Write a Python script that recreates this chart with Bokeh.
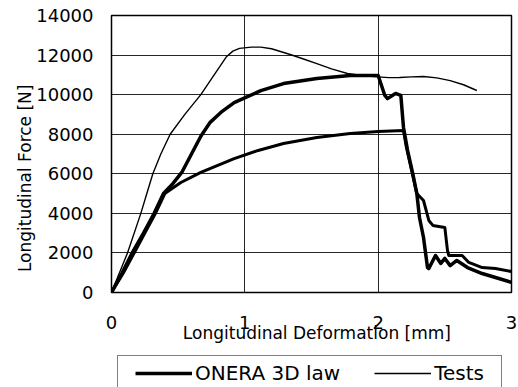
from bokeh.plotting import figure
from bokeh.models import Legend, LegendItem, FixedTicker, Range1d
from bokeh.layouts import column
from bokeh.embed import file_html
from bokeh.resources import INLINE

# ---- data ----
tests_x = [0, 0.12, 0.22, 0.265, 0.31, 0.37, 0.44, 0.55, 0.67, 0.77, 0.86, 0.91, 0.96, 1.05,
           1.12, 1.2, 1.34, 1.44, 1.54, 1.65, 1.77, 1.9, 2.0, 2.08, 2.16, 2.25, 2.34, 2.44,
           2.54, 2.64, 2.74]
tests_y = [0, 2000, 4000, 5000, 6000, 7000, 8000, 9000, 10000, 11000, 11900, 12200, 12340,
           12400, 12400, 12320, 12030, 11800, 11570, 11300, 11070, 10950, 10900, 10860, 10870,
           10900, 10920, 10850, 10710, 10500, 10210]

onera_a_x = [0, 0.08, 0.155, 0.24, 0.32, 0.39, 0.46, 0.53, 0.6, 0.67, 0.74, 0.82, 0.92, 1.02,
             1.12, 1.29, 1.54, 1.79, 2.0, 2.05, 2.07, 2.13, 2.17, 2.19, 2.22, 2.26, 2.29, 2.31,
             2.34, 2.37, 2.38, 2.43, 2.47, 2.50, 2.54, 2.59, 2.67, 2.78, 2.88, 3.0]
onera_a_y = [0, 1000, 2000, 3000, 4000, 5000, 5500, 6100, 7000, 7900, 8600, 9100, 9600, 9900,
             10200, 10560, 10820, 10970, 10970, 9960, 9800, 10060, 9960, 8340, 7200, 6000, 5000,
             3790, 2780, 1260, 1210, 1870, 1470, 1720, 1360, 1620, 1260, 960, 760, 510]

onera_b_x = [0, 0.09, 0.17, 0.25, 0.33, 0.40, 0.52, 0.67, 0.92, 1.1, 1.29, 1.54, 1.79, 2.0,
             2.19, 2.21, 2.25, 2.29, 2.34, 2.38, 2.41, 2.50, 2.52, 2.53, 2.63, 2.68, 2.78,
             2.88, 3.0]
onera_b_y = [0, 1000, 2000, 3000, 4000, 5000, 5560, 6070, 6770, 7180, 7530, 7830, 8040, 8140,
             8190, 7400, 6200, 5000, 4650, 3640, 3390, 3290, 2120, 1870, 1870, 1520, 1260,
             1210, 1060]

x_ticks = [0, 1, 2, 3]
y_ticks = [0, 2000, 4000, 6000, 8000, 10000, 12000, 14000]

x_title = "Longitudinal Deformation [mm]"
y_title = "Longitudinal Force [N]"
legend_labels = ["ONERA 3D law", "Tests"]

FONT = "DejaVu Sans"
NBSP = "\u00a0"

# ---------------- main chart ----------------
p = figure(width=518, height=349, output_backend="svg", toolbar_location=None,
           x_range=Range1d(0, 3), y_range=Range1d(0, 14000),
           min_border_left=111, min_border_right=7, min_border_top=15, min_border_bottom=57)

p.outline_line_color = "black"
p.outline_line_width = 1.5

for ax in (p.xaxis[0], p.yaxis[0]):
    ax.axis_line_color = None
    ax.major_tick_line_color = None
    ax.minor_tick_line_color = None
    ax.major_tick_out = 0
    ax.major_tick_in = 0
    ax.major_label_text_font = FONT
    ax.major_label_text_font_size = "18px"
    ax.major_label_text_color = "black"
    ax.axis_label_text_font = FONT
    ax.axis_label_text_font_size = "17px"
    ax.axis_label_text_font_style = "normal"
    ax.axis_label_text_color = "black"

p.xaxis[0].ticker = FixedTicker(ticks=x_ticks)
p.yaxis[0].ticker = FixedTicker(ticks=y_ticks)
p.xaxis[0].major_label_standoff = 23
p.yaxis[0].major_label_standoff = 18

# x title pulled up so it tucks under the tick labels; nbsp padding shifts it right
p.xaxis[0].axis_label = NBSP * 2 + x_title
p.xaxis[0].axis_label_standoff = -9
# y title shifted down (trailing nbsp pads the upper end)
p.yaxis[0].axis_label = y_title + NBSP * 9
p.yaxis[0].axis_label_standoff = -2

p.xgrid.ticker = FixedTicker(ticks=x_ticks)
p.ygrid.ticker = FixedTicker(ticks=y_ticks)
p.grid.grid_line_color = "black"
p.grid.grid_line_width = 1
p.grid.grid_line_alpha = 0.85

p.line(onera_b_x, onera_b_y, line_color="black", line_width=3, line_join="round")
p.line(onera_a_x, onera_a_y, line_color="black", line_width=3.5, line_join="round")
p.line(tests_x, tests_y, line_color="black", line_width=1.4, line_join="round")

# ---------------- legend strip ----------------
lg = figure(width=518, height=38, output_backend="svg", toolbar_location=None,
            x_range=Range1d(0, 1), y_range=Range1d(0, 1),
            x_axis_location=None, y_axis_location=None, min_border=0)
lg.outline_line_color = None
lg.xgrid.visible = False
lg.ygrid.visible = False
# key renderers: lines lying outside the strip's range, used only for legend glyphs
k_a = lg.line([-10, -9], [-10, -10], line_color="black", line_width=3.5)
k_t = lg.line([-10, -9], [-10, -10], line_color="black", line_width=1.4)

legend = Legend(items=[LegendItem(label=legend_labels[0], renderers=[k_a]),
                       LegendItem(label=legend_labels[1], renderers=[k_t])],
                orientation="horizontal", location=(6, -4),
                padding=5, margin=0, spacing=34, glyph_width=57, glyph_height=20,
                label_standoff=3, label_height=20, label_width=62,
                title=" ", title_location="left", title_standoff=11,
                title_text_font_size="1px",
                label_text_font=FONT, label_text_font_size="20px", label_text_color="black",
                border_line_color="black", border_line_width=1.3,
                background_fill_color="white", background_fill_alpha=1.0)
lg.add_layout(legend, "center")

layout = column(p, lg, spacing=0)
open("out.html", "w").write(file_html(layout, INLINE))
